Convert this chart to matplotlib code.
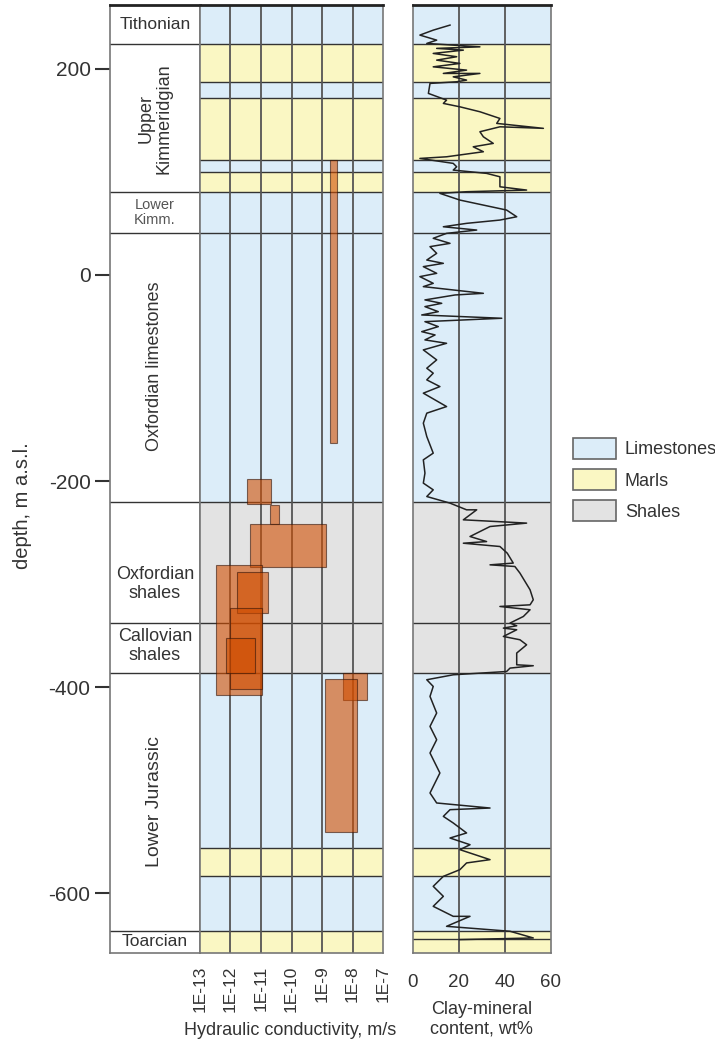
import numpy as np
import matplotlib.pyplot as plt
from matplotlib.patches import Rectangle, Patch

plt.rcParams['font.family'] = ['Liberation Sans', 'DejaVu Sans']

# lithology bands, m a.s.l.
band_top = [262, 224, 187, 172, 112, 100, 81, -220, -386, -556, -583, -637]
band_bot = [224, 187, 172, 112, 100, 81, -220, -386, -556, -583, -637, -658]
band_lith = ['Limestones', 'Marls', 'Limestones', 'Marls', 'Limestones', 'Marls',
             'Limestones', 'Shales', 'Limestones', 'Marls', 'Limestones', 'Marls']
lith_colors = {'Limestones': '#dcedf9', 'Marls': '#faf7c3', 'Shales': '#e3e3e3'}

# stage boundaries
stage_lines = [224, 81, 41, -220, -338, -386, -637]
stage_names = ['Tithonian', 'Upper\nKimmeridgian', 'Lower\nKimm.', 'Oxfordian limestones',
               'Oxfordian\nshales', 'Callovian\nshales', 'Lower Jurassic', 'Toarcian']
stage_depth = [243, 152, 61, -89, -300, -360, -511, -647]
stage_rot = [0, 90, 0, 90, 0, 0, 90, 0]
stage_size = [12.5, 13, 10.5, 13, 13, 13, 14, 12.5]

# hydraulic conductivity intervals (m/s) and depth ranges
k_min = [1.8e-9, 3.5e-12, 2.0e-11, 4.4e-12, 3.3e-13, 1.6e-12, 9.5e-13, 7.1e-13, 4.9e-9, 1.26e-9]
k_max = [3.2e-9, 2.1e-11, 3.9e-11, 1.35e-9, 1.07e-11, 1.7e-11, 1.07e-11, 6.3e-12, 3.0e-8, 1.4e-8]
k_top = [112, -198, -223, -242, -281, -288, -323, -352, -386, -392]
k_bot = [-163, -222, -242, -283, -408, -328, -402, -386, -412, -541]

# clay-mineral content log
clay_depth = [242.5, 237.6, 232.8, 227.9, 224.7, 221.4, 219.9, 218.2, 215.0, 211.8,
              208.5, 205.3, 202.0, 198.8, 195.6, 195.6, 192.3, 189.1, 187.5, 185.9,
              176.2, 169.7, 166.5, 163.2, 158.4, 151.9, 147.1, 142.3, 143.8, 139.0,
              134.1, 127.7, 124.4, 119.6, 114.7, 113.1, 108.3, 105.0, 101.8, 100.2,
              98.6, 95.3, 85.6, 82.4, 80.8, 79.2, 72.7, 63.0, 56.5, 53.3,
              50.1, 46.8, 43.6, 40.4, 35.6, 30.7, 27.5, 21.0, 14.5, 11.3,
              8.1, 1.6, -1.6, -8.1, -11.3, -17.8, -19.4, -24.2, -27.5, -30.7,
              -35.6, -38.8, -42.0, -45.3, -50.1, -55.0, -58.2, -63.0, -66.3, -72.7,
              -82.4, -90.5, -95.3, -101.8, -108.3, -114.7, -127.7, -134.1, -143.8, -156.8,
              -172.9, -179.4, -192.3, -202.0, -208.5, -215.0, -221.4, -227.9, -227.9, -237.6,
              -240.8, -244.1, -253.8, -258.7, -260.3, -263.5, -270.0, -279.6, -281.3, -282.9,
              -289.3, -305.5, -315.2, -320.1, -321.7, -324.9, -331.4, -337.8, -340.4, -342.7,
              -344.3, -350.8, -354.0, -358.9, -366.9, -378.3, -379.2, -381.5, -384.8, -386.4,
              -388.0, -392.8, -399.3, -409.0, -425.1, -438.1, -451.0, -463.9, -483.3, -496.3,
              -502.7, -512.4, -517.3, -518.9, -525.4, -531.8, -541.5, -546.4, -552.9, -557.7,
              -567.4, -570.6, -577.1, -583.6, -593.3, -603.0, -612.7, -622.4, -622.4, -632.1,
              -636.9, -643.4, -645.0]
clay_wt = [16.1, 8.8, 3.0, 10.3, 6.0, 29.1, 10.3, 21.9, 8.8, 19.0,
           10.3, 20.4, 8.8, 23.3, 13.2, 29.1, 17.5, 23.3, 19.0, 7.4,
           6.7, 14.6, 13.2, 20.4, 29.1, 37.8, 36.4, 56.7, 37.8, 29.1,
           30.6, 34.9, 26.2, 30.6, 14.6, 3.0, 17.5, 19.0, 17.5, 24.8,
           32.0, 37.8, 37.8, 49.4, 23.3, 11.7, 20.4, 40.7, 45.1, 37.8,
           23.3, 13.2, 27.7, 14.6, 8.8, 16.1, 7.4, 10.3, 6.0, 13.2,
           4.5, 10.3, 3.0, 8.8, 4.5, 30.6, 18.3, 5.2, 12.5, 5.2,
           11.0, 3.8, 38.6, 5.2, 11.0, 3.8, 9.6, 5.2, 14.6, 4.5,
           10.3, 6.0, 8.8, 6.0, 11.7, 4.5, 14.6, 6.0, 4.5, 6.0,
           8.8, 4.5, 5.2, 4.5, 8.8, 6.0, 16.1, 23.3, 27.7, 21.9,
           49.4, 33.5, 24.8, 32.0, 21.9, 37.8, 41.0, 43.6, 33.5, 44.3,
           46.5, 50.9, 52.3, 50.9, 37.8, 50.9, 48.0, 42.2, 45.1, 39.3,
           45.1, 39.3, 46.5, 49.4, 45.1, 45.1, 52.3, 42.2, 40.7, 29.1,
           17.5, 6.0, 8.8, 7.4, 10.3, 7.4, 10.3, 7.4, 11.7, 8.8,
           7.4, 10.3, 33.5, 16.1, 13.2, 17.5, 23.3, 16.1, 24.8, 20.4,
           33.5, 23.3, 20.4, 13.2, 8.8, 13.2, 8.8, 17.5, 24.8, 14.6,
           42.2, 52.3, 20.4]

k_ticks = [1e-13, 1e-12, 1e-11, 1e-10, 1e-9, 1e-8, 1e-7]
k_labels = ['1E-13', '1E-12', '1E-11', '1E-10', '1E-9', '1E-8', '1E-7']
clay_ticks = [0, 20, 40, 60]
depth_ticks = [200, 0, -200, -400, -600]

ytop, ybot = 262, -658
txt = '#333333'
frame = '#777777'
grid = '#555555'

fig = plt.figure(figsize=(7.15, 10.42), dpi=100)
b, h = 0.0854, 0.9098
ax_s = fig.add_axes([0.1538, b, 0.1259, h])
ax_k = fig.add_axes([0.2797, b, 0.2560, h])
ax_c = fig.add_axes([0.5776, b, 0.1930, h])

for ax in (ax_s, ax_k, ax_c):
    ax.set_ylim(ybot, ytop)
    for sp in ax.spines.values():
        sp.set_color(frame)
        sp.set_linewidth(1.2)
    ax.spines['top'].set_color('#222222')
    ax.spines['top'].set_linewidth(2)

# stratigraphic column
ax_s.set_xlim(0, 1)
ax_s.set_xticks([])
ax_s.set_yticks(depth_ticks)
ax_s.set_yticklabels([str(d) for d in depth_ticks], fontsize=15, color=txt)
ax_s.tick_params(axis='y', length=11, width=1.5, color='#333333', pad=3)
for d in stage_lines:
    ax_s.axhline(d, color='#333333', lw=1)
for name, d, rot, fs in zip(stage_names, stage_depth, stage_rot, stage_size):
    ax_s.text(0.5, d, name, rotation=rot, ha='center', va='center', fontsize=fs,
              color='#555555' if fs < 11 else txt, linespacing=1.1)

# lithology bands in both log panels
for ax in (ax_k, ax_c):
    for t, bt, lith in zip(band_top, band_bot, band_lith):
        ax.axhspan(bt, t, color=lith_colors[lith], lw=0, zorder=0)
    for d in sorted(set(band_top[1:] + stage_lines)):
        ax.axhline(d, color='#333333', lw=1, zorder=1)

# hydraulic conductivity panel
ax_k.set_xscale('log')
ax_k.set_xlim(1e-13, 1e-7)
ax_k.set_xticks(k_ticks)
ax_k.set_xticklabels(k_labels, rotation=90, fontsize=12.5, color=txt)
ax_k.minorticks_off()
ax_k.tick_params(axis='x', length=0, pad=9)
ax_k.set_yticks([])
for x in k_ticks[1:-1]:
    ax_k.axvline(x, color=grid, lw=1.3, zorder=1)
for lo, hi, t, bt in zip(k_min, k_max, k_top, k_bot):
    ax_k.add_patch(Rectangle((lo, bt), hi - lo, t - bt, facecolor=(0.82, 0.3, 0.0),
                             alpha=0.6, edgecolor=(0.2, 0.08, 0.03), lw=0.8, zorder=3))

# clay-mineral panel
ax_c.set_xlim(0, 60)
ax_c.set_xticks(clay_ticks)
ax_c.set_xticklabels([str(c) for c in clay_ticks], fontsize=13.5, color=txt)
ax_c.tick_params(axis='x', length=0, pad=15)
ax_c.set_yticks([])
for x in clay_ticks[1:-1]:
    ax_c.axvline(x, color=grid, lw=1.3, zorder=1)
ax_c.axhline(-644, color='#333333', lw=1, zorder=1)
ax_c.plot(clay_wt, clay_depth, color='#222222', lw=1.1, zorder=4)

fig.text(0.406, 0.0115, 'Hydraulic conductivity, m/s', ha='center', va='center',
         fontsize=13, color=txt)
fig.text(0.673, 0.0215, 'Clay-mineral\ncontent, wt%', ha='center', va='center',
         fontsize=13, color=txt, linespacing=1.2)
fig.text(0.031, 0.515, 'depth, m a.s.l.', rotation=90, ha='center', va='center',
         fontsize=14.5, color=txt)

handles = [Patch(facecolor=lith_colors[k], edgecolor='#666666', lw=1.2)
           for k in ['Limestones', 'Marls', 'Shales']]
fig.legend(handles, ['Limestones', 'Marls', 'Shales'], loc='upper left',
           bbox_to_anchor=(0.778, 0.595), frameon=False, fontsize=13,
           handlelength=2.4, handleheight=1.35, labelspacing=0.6, handletextpad=0.5,
           labelcolor=txt)

fig.savefig('out.png', dpi=100)
